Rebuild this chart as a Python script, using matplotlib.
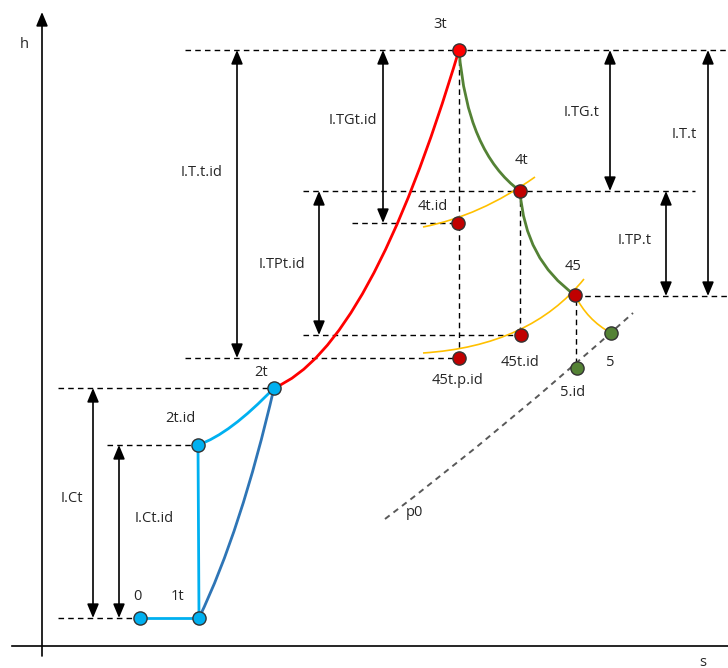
import numpy as np
import matplotlib.pyplot as plt
from matplotlib.path import Path
from matplotlib.patches import PathPatch, FancyArrowPatch

plt.rcParams['font.family'] = ['Open Sans', 'DejaVu Sans']

# estados del ciclo en el diagrama h-s (unidades del esquema)
estados = ['0', '1t', '2t.id', '2t', '3t', '4t.id', '4t', '45t.p.id', '45t.id', '45', '5.id', '5']
s_est = [140, 199, 198, 274, 459, 458, 520, 459, 521, 575, 577, 611]
h_est = [50, 50, 223, 280, 618, 445, 477, 310, 333, 373, 300, 335]
col_est = ['#00b0f0', '#00b0f0', '#00b0f0', '#00b0f0', '#ff0000', '#c00000', '#c00000',
           '#c00000', '#c00000', '#c00000', '#548235', '#548235']

# posicion de las etiquetas de cada estado
s_etq = [137, 177, 180, 261, 440, 433, 521, 457, 520, 573, 573, 610]
h_etq = [72, 72, 250, 296, 643, 461, 507, 288, 306, 402, 276, 306]

# niveles de entalpia (lineas discontinuas): h, s_inicio, s_fin
niveles_h = [618, 477, 445, 372, 333, 310, 280, 223, 50]
niveles_s0 = [185, 303, 352, 575, 303, 185, 58, 107, 58]
niveles_s1 = [728, 695, 458, 728, 521, 459, 274, 198, 140]

# verticales discontinuas: s, h_inicio, h_fin
vert_s = [459, 520, 576]
vert_h0 = [618, 477, 378]
vert_h1 = [310, 333, 300]

# saltos de entalpia (flechas dobles)
saltos = ['I.T.t.id', 'I.TGt.id', 'I.TPt.id', 'I.TG.t', 'I.T.t', 'I.TP.t', 'I.Ct', 'I.Ct.id']
saltos_s = [237, 383, 319, 610, 708, 666, 93, 119]
saltos_h0 = [618, 618, 477, 618, 618, 477, 280, 223]
saltos_h1 = [310, 445, 333, 477, 372, 372, 50, 50]
saltos_etq_s = [202, 353, 282, 582, 684, 635, 72, 154]
saltos_etq_h = [495, 548, 403, 556, 533, 428, 170, 149]

# curvas (bezier cuadratica): inicio, control, fin
curvas = {
    'compresion_id': ([198, 223], [230, 234], [274, 280], '#00b0f0', 2.0, '-'),
    'compresion': ([199, 50], [241, 137], [274, 280], '#2e75b6', 2.0, '-'),
    'combustion': ([274, 280], [370, 320], [459, 618], '#ff0000', 2.0, '-'),
    'turbina_g': ([459, 618], [467, 516], [520, 477], '#548235', 2.0, '-'),
    'turbina_p': ([520, 477], [525, 408], [575, 373], '#548235', 2.0, '-'),
    'iso_4t': ([423, 441], [480, 452], [535, 491], '#ffc000', 1.2, '-'),
    'iso_45': ([423, 315], [530, 322], [584, 389], '#ffc000', 1.2, '-'),
    'iso_5': ([575, 373], [587, 348], [611, 335], '#ffc000', 1.2, '-'),
    'p0': ([385, 149], [505, 240], [633, 355], '#595959', 1.4, (0, (3, 2.5))),
}

txt = dict(ha='center', va='center', fontsize=10.5, color='#262626')

fig = plt.figure(figsize=(7.28, 6.68), dpi=100)
ax = fig.add_axes([0, 0, 1, 1])
ax.set_xlim(0, 728)
ax.set_ylim(0, 668)
ax.axis('off')

# ejes h y s
ax.annotate('', xy=(42, 656), xytext=(42, 12),
            arrowprops=dict(arrowstyle='-|>,head_length=0.6,head_width=0.25', color='black', lw=1.2,
                            mutation_scale=14, shrinkA=0, shrinkB=0))
ax.plot([12, 728], [22, 22], color='black', lw=1.2)
ax.text(24, 624, 'h', **txt)
ax.text(703, 6, 's', **txt)

for h, s0, s1 in zip(niveles_h, niveles_s0, niveles_s1):
    ax.plot([s0, s1], [h, h], color='black', lw=1.0, ls=(0, (4, 3)), zorder=1)
for s, h0, h1 in zip(vert_s, vert_h0, vert_h1):
    ax.plot([s, s], [h0, h1], color='black', lw=1.0, ls=(0, (4, 3)), zorder=1)

for nombre, s, h0, h1, es, eh in zip(saltos, saltos_s, saltos_h0, saltos_h1, saltos_etq_s, saltos_etq_h):
    flecha = FancyArrowPatch((s, h0), (s, h1), arrowstyle='<|-|>,head_length=0.6,head_width=0.25',
                             mutation_scale=14, color='black', lw=1.2, shrinkA=0, shrinkB=0, zorder=2)
    ax.add_patch(flecha)
    ax.text(es, eh, nombre, **txt)

# tramos rectos de la compresion ideal
ax.plot([s_est[0], s_est[1]], [h_est[0], h_est[1]], color='#00b0f0', lw=2.0, zorder=3)
ax.plot([s_est[1], s_est[2]], [h_est[1], h_est[2]], color='#00b0f0', lw=2.0, zorder=3)

for nombre, (p0, c, p2, color, lw, ls) in curvas.items():
    camino = Path([p0, c, p2], [Path.MOVETO, Path.CURVE3, Path.CURVE3])
    ax.add_patch(PathPatch(camino, fill=False, edgecolor=color, lw=lw, ls=ls, zorder=3))
ax.text(414, 155, 'p0', **txt)

for nombre, s, h, c, es, eh in zip(estados, s_est, h_est, col_est, s_etq, h_etq):
    ax.plot(s, h, 'o', ms=9.5, mfc=c, mec='#333333', mew=1.0, zorder=5)
    ax.text(es, eh, nombre, **txt)

plt.savefig('out.png', dpi=100)
